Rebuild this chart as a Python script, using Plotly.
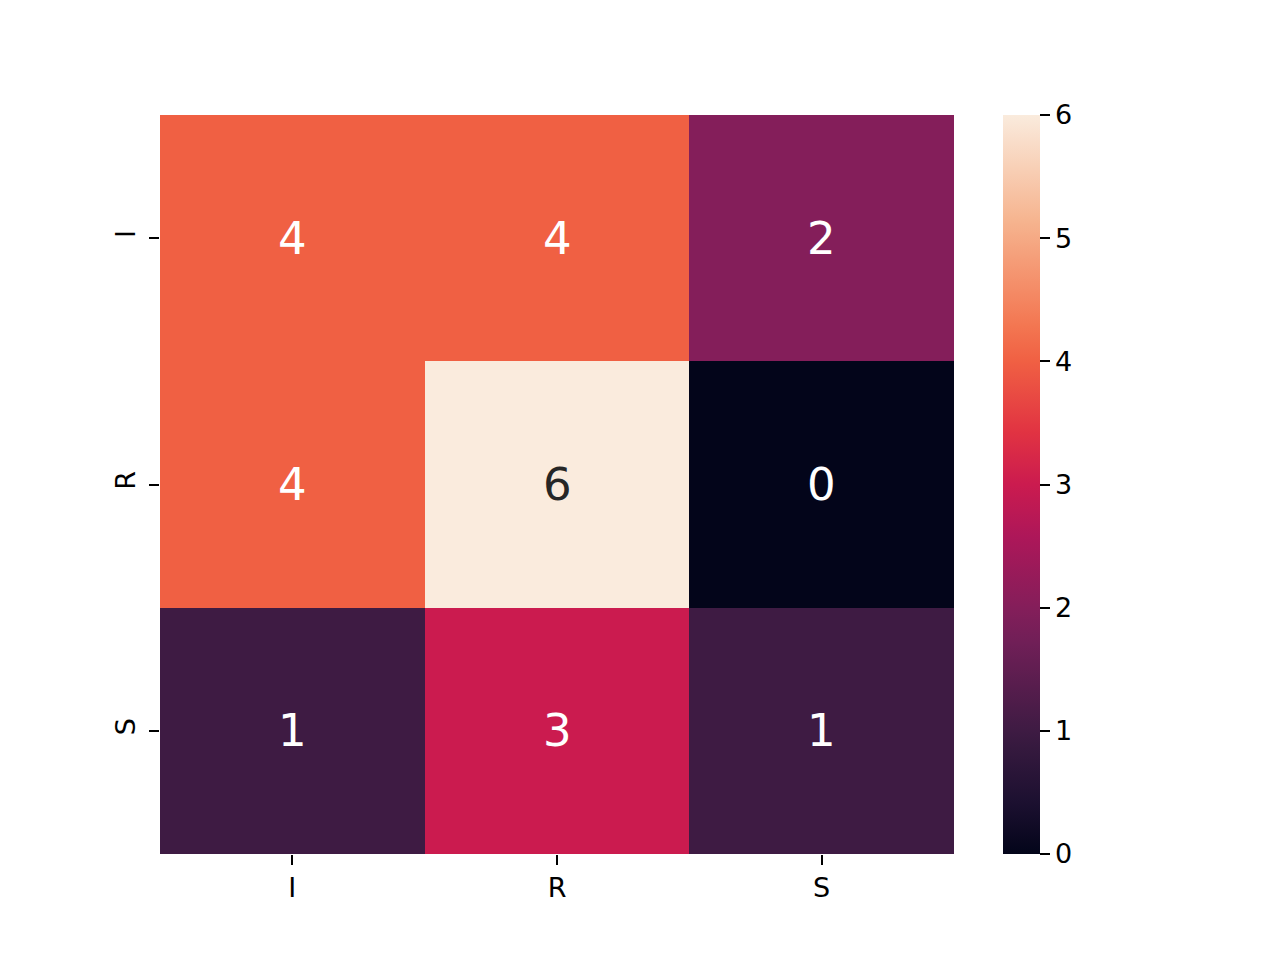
import plotly.graph_objects as go

x_labels = ["I", "R", "S"]
y_labels = ["I", "R", "S"]
values = [
    [4, 4, 2],
    [4, 6, 0],
    [1, 3, 1],
]
cbar_ticks = [0, 1, 2, 3, 4, 5, 6]

rocket = [
    [0.0, "#03051a"],
    [0.07, "#1c1030"],
    [0.143, "#35193e"],
    [0.1667, "#3e1b43"],
    [0.286, "#701f57"],
    [0.333, "#841e5a"],
    [0.429, "#ad1759"],
    [0.5, "#cb1b4f"],
    [0.571, "#e13342"],
    [0.667, "#f06043"],
    [0.714, "#f37651"],
    [0.857, "#f6b48f"],
    [1.0, "#faebdd"],
]

# page body has an 8px margin; compensate so plot lands at 160..954 x 115..854
W, H = 1264, 944
L, T = 152, 107
PW, PH = 794, 739

fig = go.Figure(
    go.Heatmap(
        z=values,
        x=x_labels,
        y=y_labels,
        zmin=0,
        zmax=6,
        colorscale=rocket,
        xgap=0,
        ygap=0,
        colorbar=dict(
            x=(995 - L) / PW,
            xanchor="left",
            xpad=0,
            ypad=0,
            y=0.5,
            yanchor="middle",
            len=1.0,
            lenmode="fraction",
            thickness=37,
            outlinewidth=0,
            tickmode="array",
            tickvals=cbar_ticks,
            ticks="outside",
            ticklen=10,
            tickwidth=2,
            tickcolor="black",
            tickfont=dict(family="DejaVu Sans", size=27, color="black"),
        ),
        hoverinfo="skip",
    )
)

annotations = []
for i, ylab in enumerate(y_labels):
    for j, xlab in enumerate(x_labels):
        v = values[i][j]
        annotations.append(
            dict(
                x=xlab,
                y=ylab,
                text=str(v),
                showarrow=False,
                font=dict(
                    family="DejaVu Sans",
                    size=45,
                    color="#262626" if v >= 5 else "white",
                ),
            )
        )

fig.update_layout(
    width=W,
    height=H,
    margin=dict(l=L, r=W - L - PW, t=T, b=H - T - PH, autoexpand=False),
    paper_bgcolor="white",
    plot_bgcolor="white",
    annotations=annotations,
    showlegend=False,
)
fig.update_xaxes(
    type="category",
    ticks="outside",
    ticklen=10,
    tickwidth=2,
    tickcolor="black",
    showgrid=False,
    zeroline=False,
    showline=False,
    tickfont=dict(family="DejaVu Sans", size=27, color="black"),
    ticklabelstandoff=0,
)
fig.update_yaxes(
    type="category",
    autorange="reversed",
    ticks="outside",
    ticklen=10,
    tickwidth=2,
    tickcolor="black",
    showgrid=False,
    zeroline=False,
    showline=False,
    tickangle=-90,
    tickfont=dict(family="DejaVu Sans", size=27, color="black"),
    ticklabelstandoff=3,
)

fig.write_html("out.html")
